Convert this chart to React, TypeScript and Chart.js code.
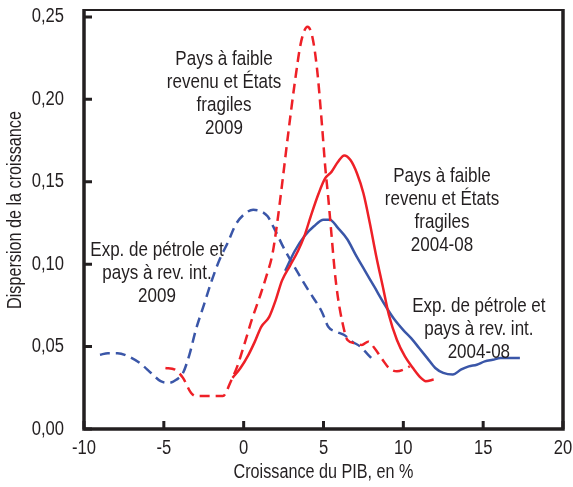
import React, { useEffect, useRef } from "react";
import { Chart, registerables } from "chart.js";
Chart.register(...registerables);

const FONT = "'Liberation Sans', Arial, sans-serif";
const TEXT = "#231f20";
const BLUE = "#3a56a8";
const RED = "#ee2027";
const SX = 0.83; // condensed look

const xTicks = [-10, -5, 0, 5, 10, 15, 20];
const yTicks = [0, 0.05, 0.1, 0.15, 0.2, 0.25];

// Pays à faible revenu et États fragiles, 2009 (red dashed)
const lic2009X = [-4.9, -4.3, -3.8, -3.3, -3.0, -1.3, -0.8, -0.4, 0.0, 0.5, 1.0, 1.4, 1.8, 2.1, 2.4, 2.8, 3.2, 3.6, 4.0, 4.3, 4.6, 4.9, 5.1, 5.3, 5.5, 5.7, 5.9, 6.2, 6.5, 7.0, 7.4, 7.8, 8.2, 8.7, 9.1, 9.6, 10.0, 10.4];
const lic2009Y = [0.037, 0.036, 0.031, 0.022, 0.02, 0.02, 0.029, 0.038, 0.05, 0.066, 0.08, 0.092, 0.106, 0.125, 0.148, 0.18, 0.21, 0.235, 0.244, 0.238, 0.218, 0.185, 0.16, 0.14, 0.118, 0.096, 0.08, 0.064, 0.054, 0.052, 0.051, 0.053, 0.049, 0.042, 0.037, 0.035, 0.036, 0.038];

// Pays à faible revenu et États fragiles, 2004-08 (red solid)
const lic0408X = [-0.7, -0.2, 0.3, 0.7, 1.1, 1.6, 2.0, 2.4, 2.9, 3.4, 3.8, 4.2, 4.7, 5.1, 5.5, 5.9, 6.3, 6.7, 7.1, 7.5, 7.9, 8.3, 8.7, 9.1, 9.6, 10.1, 10.6, 11.1, 11.4, 11.9];
const lic0408Y = [0.031, 0.037, 0.045, 0.053, 0.062, 0.068, 0.078, 0.09, 0.099, 0.108, 0.117, 0.129, 0.143, 0.152, 0.156, 0.162, 0.166, 0.163, 0.155, 0.143, 0.125, 0.105, 0.087, 0.069, 0.054, 0.044, 0.037, 0.031, 0.029, 0.03];

// Exp. de pétrole et pays à rev. int., 2009 (blue dashed)
const oil2009X = [-9.0, -8.5, -7.9, -7.2, -6.5, -5.8, -5.2, -4.7, -4.2, -3.8, -3.4, -3.0, -2.5, -2.0, -1.5, -1.0, -0.5, 0.0, 0.6, 1.1, 1.5, 2.0, 2.5, 3.2, 4.0, 4.9, 5.3, 5.8, 6.3, 6.8, 7.3, 7.8, 8.1];
const oil2009Y = [0.045, 0.046, 0.046, 0.044, 0.04, 0.034, 0.029, 0.028, 0.03, 0.034, 0.045, 0.06, 0.075, 0.09, 0.103, 0.113, 0.124, 0.13, 0.133, 0.132, 0.129, 0.12, 0.11, 0.098, 0.085, 0.071, 0.062, 0.059, 0.057, 0.053, 0.05, 0.045, 0.042];

// Exp. de pétrole et pays à rev. int., 2004-08 (blue solid)
const oil0408X = [2.6, 3.2, 3.8, 4.4, 5.0, 5.4, 5.9, 6.5, 7.0, 7.6, 8.2, 8.8, 9.4, 10.0, 10.5, 11.0, 11.5, 12.0, 12.5, 13.1, 13.6, 14.1, 14.6, 15.1, 15.6, 16.1, 16.7, 17.3];
const oil0408Y = [0.096, 0.108, 0.117, 0.123, 0.127, 0.127, 0.122, 0.115, 0.106, 0.096, 0.086, 0.076, 0.067, 0.06, 0.055, 0.049, 0.043, 0.037, 0.034, 0.033, 0.036, 0.038, 0.039, 0.041, 0.042, 0.043, 0.043, 0.043];

const xTitle = "Croissance du PIB, en %";
const yTitle = "Dispersion de la croissance";

const notes = [
  { lines: ["Pays à faible", "revenu et États", "fragiles", "2009"], x: -1.23, y: 0.2245 },
  { lines: ["Pays à faible", "revenu et États", "fragiles", "2004-08"], x: 12.42, y: 0.1535 },
  { lines: ["Exp. de pétrole et", "pays à rev. int.", "2009"], x: -5.43, y: 0.1085 },
  { lines: ["Exp. de pétrole et", "pays à rev. int.", "2004-08"], x: 14.73, y: 0.0745 },
];

const pts = (xs: number[], ys: number[]) => xs.map((x, i) => ({ x, y: ys[i] }));

function txt(ctx: any, s: string, x: number, y: number, size: number, align: string, rotate = false) {
  ctx.save();
  ctx.translate(x, y);
  if (rotate) ctx.rotate(-Math.PI / 2);
  ctx.scale(SX, 1);
  ctx.font = `${size}px ${FONT}`;
  ctx.fillStyle = TEXT;
  ctx.textAlign = align;
  ctx.textBaseline = "middle";
  ctx.fillText(s, 0, 0);
  ctx.restore();
}

const framePlugin = {
  id: "frame",
  afterDraw(chart: any) {
    const { ctx, chartArea: a, scales } = chart;
    const xs = scales.x;
    const ys = scales.y;
    ctx.save();
    // annotations
    notes.forEach((n) => {
      const px = xs.getPixelForValue(n.x);
      const py = ys.getPixelForValue(n.y);
      n.lines.forEach((l, i) => txt(ctx, l, px, py + i * 23, 20.5, "center"));
    });
    // tick labels
    xTicks.forEach((v) => txt(ctx, String(v), xs.getPixelForValue(v), a.bottom + 19, 20, "center"));
    yTicks.forEach((v) =>
      txt(ctx, v.toFixed(2).replace(".", ","), a.left - 20, ys.getPixelForValue(v), 20, "right")
    );
    // axis titles
    txt(ctx, xTitle, (a.left + a.right) / 2, 473, 19.5, "center");
    txt(ctx, yTitle, 16, 210, 19.5, "center", true);
    // frame
    ctx.strokeStyle = "#231f20";
    ctx.lineWidth = 2;
    ctx.beginPath();
    ctx.moveTo(a.left, a.top);
    ctx.lineTo(a.right, a.top);
    ctx.stroke();
    ctx.lineWidth = 3.5;
    ctx.beginPath();
    ctx.moveTo(a.left, a.top - 1);
    ctx.lineTo(a.left, a.bottom);
    ctx.lineTo(a.right, a.bottom);
    ctx.lineTo(a.right, a.top - 1);
    ctx.stroke();
    // inward ticks
    ctx.lineWidth = 3;
    ctx.beginPath();
    xTicks.forEach((v) => {
      const px = xs.getPixelForValue(v);
      ctx.moveTo(px, a.bottom);
      ctx.lineTo(px, a.bottom - 8);
    });
    yTicks.forEach((v) => {
      const py = ys.getPixelForValue(v);
      ctx.moveTo(a.left, py);
      ctx.lineTo(a.left + 8, py);
    });
    ctx.stroke();
    ctx.restore();
  },
};

export default function App() {
  const ref = useRef<HTMLCanvasElement>(null);
  useEffect(() => {
    if (!ref.current) return;
    const line = (data: any, color: string, dashed: boolean) => ({
      data,
      borderColor: color,
      backgroundColor: color,
      borderWidth: 2.5,
      borderDash: dashed ? [10, 6] : [],
      pointRadius: 0,
      showLine: true,
      fill: false,
      cubicInterpolationMode: "monotone" as const,
    });
    const chart = new Chart(ref.current, {
      type: "scatter",
      data: {
        datasets: [
          line(pts(lic2009X, lic2009Y), RED, true),
          line(pts(lic0408X, lic0408Y), RED, false),
          line(pts(oil2009X, oil2009Y), BLUE, true),
          line(pts(oil0408X, oil0408Y), BLUE, false),
        ],
      },
      options: {
        animation: false,
        responsive: false,
        maintainAspectRatio: false,
        layout: { padding: { left: 0, right: 10, top: 10, bottom: 0 } },
        plugins: { legend: { display: false }, tooltip: { enabled: false } },
        scales: {
          x: {
            type: "linear",
            min: -10,
            max: 20,
            afterBuildTicks: (s: any) => {
              s.ticks = xTicks.map((v) => ({ value: v }));
            },
            afterFit: (s: any) => {
              s.height = 58;
            },
            grid: { display: false },
            border: { display: false },
            ticks: { display: false },
          },
          y: {
            type: "linear",
            min: 0,
            max: 0.2542,
            afterBuildTicks: (s: any) => {
              s.ticks = yTicks.map((v) => ({ value: v }));
            },
            afterFit: (s: any) => {
              s.width = 84;
            },
            grid: { display: false },
            border: { display: false },
            ticks: { display: false },
          },
        },
      },
      plugins: [framePlugin],
    });
    return () => chart.destroy();
  }, []);
  return (
    <div style={{ position: "fixed", left: 0, top: 0, width: 573, height: 487, background: "#fff" }}>
      <canvas ref={ref} width={573} height={487} style={{ width: 573, height: 487 }} />
    </div>
  );
}
